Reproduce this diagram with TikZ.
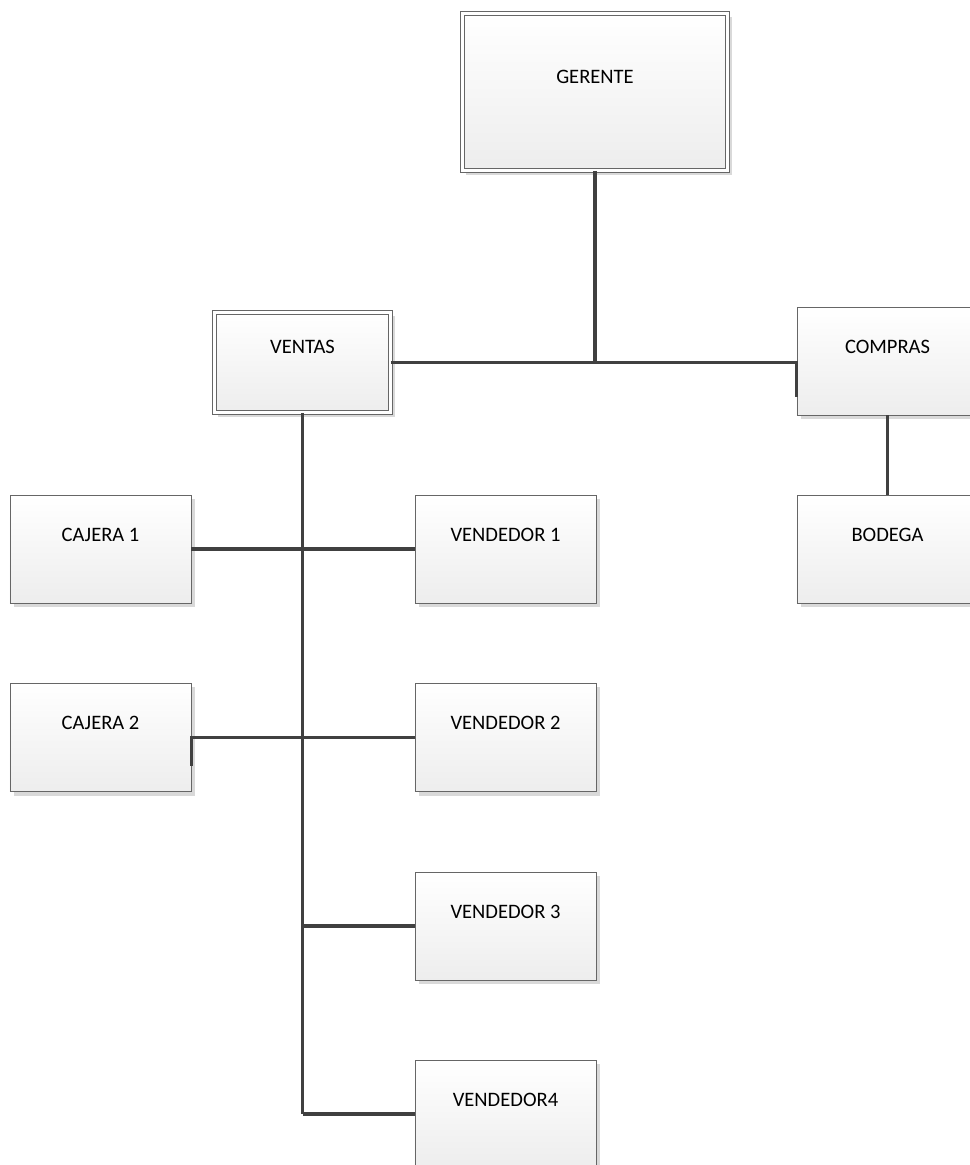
\documentclass[tikz,border=0pt]{standalone}
\usepackage{fontspec}
\setmainfont{Carlito}
\usepackage{tikz}
\usetikzlibrary{shadows}

\begin{document}
\begin{tikzpicture}[x=0.025cm, y=-0.025cm,
    box/.style={draw=black!60, line width=0.6pt, top color=white, bottom color=black!7,
        drop shadow={shadow xshift=0.1cm, shadow yshift=-0.1cm, fill=black!15, opacity=1},
        inner sep=0pt, minimum width=4.525cm, text height=1.15cm, text depth=1.55cm,
        font=\fontsize{14.6}{17}\selectfont},
    dbox/.style={box, double, double distance=0.075cm},
    link/.style={draw=black!75, line width=2.2pt}]
    \useasboundingbox (0,0) rectangle (969,1165);

    % top
    \node[dbox, minimum width=6.625cm, text height=1.7375cm, text depth=2.1875cm] (ger) at (595,92) {GERENTE};
    \node[dbox, minimum width=4.4cm, text height=1.0125cm, text depth=1.4875cm] (ven) at (302.5,362.5) {VENTAS};
    \node[box] (com) at (887.5,361) {COMPRAS};
    \node[box] (bod) at (887.5,549) {BODEGA};

    % ventas
    \node[box] (caj1) at (100.5,549) {CAJERA 1};
    \node[box] (caj2) at (100.5,737.5) {CAJERA 2};
    \node[box] (vend1) at (505.5,549) {VENDEDOR 1};
    \node[box] (vend2) at (505.5,737.5) {VENDEDOR 2};
    \node[box] (vend3) at (505.5,926) {VENDEDOR 3};
    \node[box] (vend4) at (505.5,1114) {VENDEDOR4};

    % connectors
    \draw[link] (ger.south) -- (ger.south |- ven.east);
    \draw[link] (ven.east) -- (ven.east -| com.west) -- ++(0,34);
    \draw[link] (com.south) -- (bod.north);
    \draw[link] (ven.south) -- (ven.south |- vend4.west);
    \draw[link] (caj1.east) -- (vend1.west);
    \draw[link] ([yshift=-0.7cm]caj2.east) -- (caj2.east) -- (caj2.east -| ven.south);
    \foreach \n in {vend2,vend3,vend4}
        \draw[link] (ven.south |- \n.west) -- (\n.west);
\end{tikzpicture}
\end{document}
